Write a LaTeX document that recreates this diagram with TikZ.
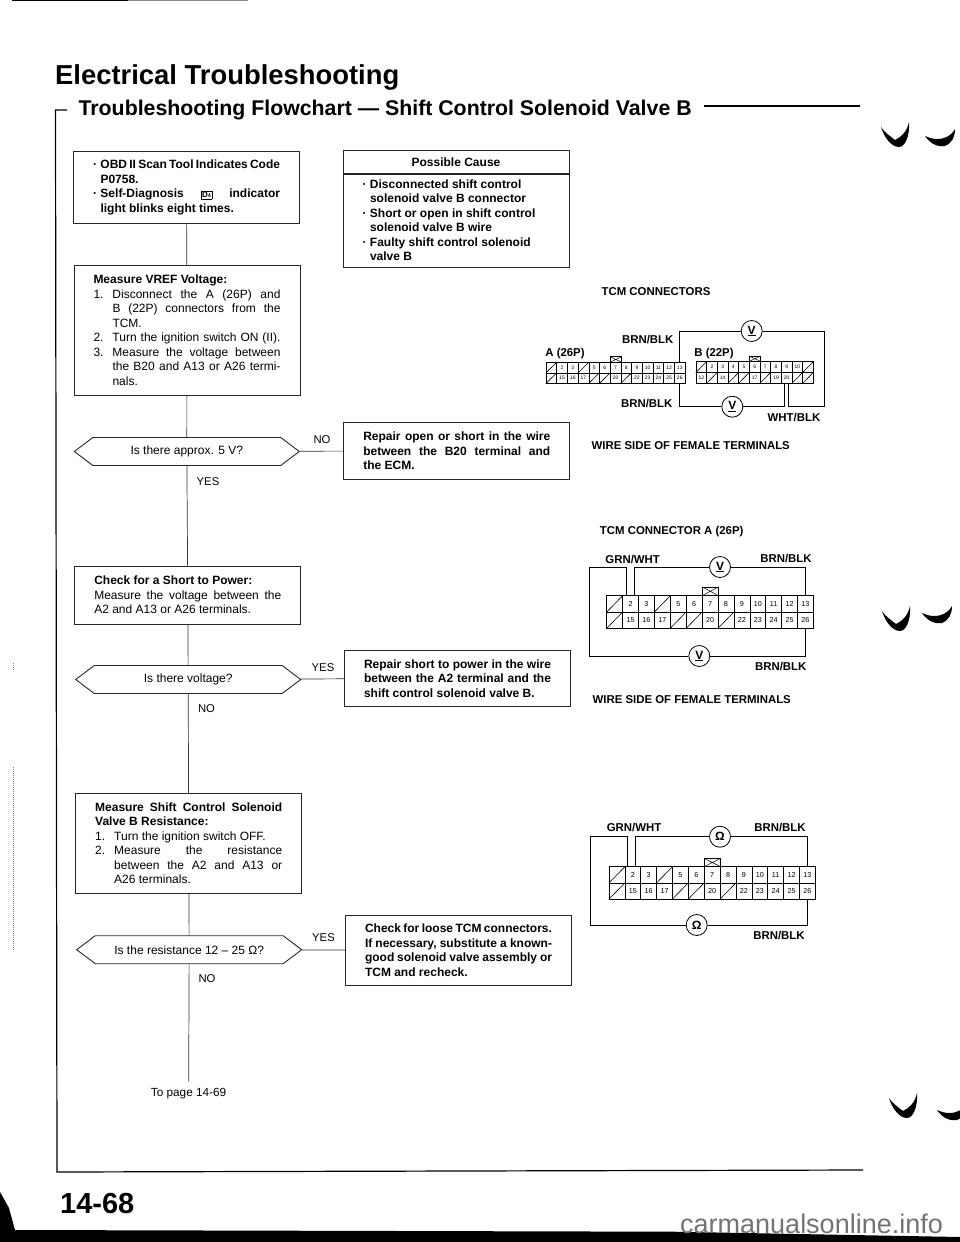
\documentclass[tikz,border=0pt]{standalone}
\usepackage{fontspec}
\setmainfont{Liberation Sans}
\usetikzlibrary{shapes.symbols, positioning}
\tikzstyle{process} = [rectangle, minimum width=226pt, inner xsep=19.5pt, inner ysep=2pt, text width=187pt, align=flush left, draw=black!85, line width=0.9pt]
\tikzstyle{decision} = [signal, signal to=west and east, signal pointer angle=74, minimum width=225pt, minimum height=28pt, inner sep=0pt, draw=black!85, line width=0.9pt]
\tikzstyle{flow} = [black!80, line width=0.7pt]
\tikzstyle{reply} = [inner sep=0pt, font=\fontsize{11.3}{13}\selectfont]
\tikzstyle{caption} = [inner sep=0pt, font=\fontsize{11.4}{13}\selectfont\bfseries]
\tikzstyle{wire} = [black, line width=0.8pt]
\tikzstyle{meter} = [circle, draw=black, line width=0.8pt, minimum size=21pt, inner sep=0pt, font=\fontsize{12}{12}\selectfont\bfseries]
\tikzstyle{cell} = [rectangle, draw=black, line width=0.5pt, inner sep=0pt]
\tikzstyle{notch} = [rectangle, draw=black, line width=0.7pt, inner sep=0pt, path picture={\draw [line width=0.5pt] (path picture bounding box.south west) -- (path picture bounding box.north east) (path picture bounding box.north west) -- (path picture bounding box.south east);}]
\tikzset{
  birdleft/.pic={\fill (0,5) .. controls (3,15) and (10,25) .. (18,25) .. controls (24,25) and (29,14) .. (28,0) .. controls (26,10) and (20,15) .. (14,18) .. controls (9,14) and (3,10) .. cycle;},
  birdright/.pic={\fill (0,3) .. controls (6,12) and (14,14) .. (20,13) .. controls (27,10) and (30,4) .. (30,-4) .. controls (26,3) and (20,6) .. (12,6) .. controls (6,6) and (3,4) .. cycle;}
}
\newcommand{\lin}[3]{\makebox[#1pt][l]{#2}\makebox[\dimexpr187pt-#1pt\relax][s]{#3}}
\newcommand{\rag}[3]{\makebox[#1pt][l]{#2}#3}
\newcommand{\dfour}{{\fboxsep=0.8pt\fboxrule=0.5pt\fbox{\fontsize{8}{8}\selectfont D\fontsize{5.5}{5.5}\selectfont 4}}}
\newcommand{\connector}[8]{
  \foreach \pin [count=\col] in {#7} {
    \node (#1t\col) [cell, minimum width=#4pt, minimum height=#5pt, font=\fontsize{#6}{#6}\selectfont] at ({#2+(\col-0.5)*#4},{#3+0.5*#5}) {\ifnum\pin=0 \else\pin\fi};
    \ifnum\pin=0 \draw [line width=0.6pt] (#1t\col.south west) -- (#1t\col.north east); \fi
  }
  \foreach \pin [count=\col] in {#8} {
    \node (#1b\col) [cell, minimum width=#4pt, minimum height=#5pt, font=\fontsize{#6}{#6}\selectfont] at ({#2+(\col-0.5)*#4},{#3+1.5*#5}) {\ifnum\pin=0 \else\pin\fi};
    \ifnum\pin=0 \draw [line width=0.6pt] (#1b\col.south west) -- (#1b\col.north east); \fi
  }
}
\begin{document}
\begin{tikzpicture}[x=1pt, y=-1pt, font=\fontsize{12}{14.5}\selectfont]
\useasboundingbox (0,0) rectangle (960,1242);

\node (title) [inner sep=0pt, anchor=base west, font=\fontsize{27.4}{30}\selectfont\bfseries] at (55,84.3) {Electrical Troubleshooting};
\node (subtitle) [inner sep=0pt, anchor=base west, font=\fontsize{21.3}{24}\selectfont\bfseries] at (78.4,115) {Troubleshooting Flowchart --- Shift Control Solenoid Valve B};
\draw [line width=1.2pt] (704,106) -- (860,106);
\draw [line width=1.2pt] (67,110) -- (55.5,110) -- (57,1172) -- (863,1170);
\draw [line width=1.2pt] (12,0.5) -- (128,0.5);
\draw [line width=1pt, black!45] (128,0.5) -- (248,0.5);
\draw [line width=1pt, black!50, densely dotted] (13,767) -- (13,950);
\draw [line width=1pt, black!50, densely dotted] (13,663) -- (13,670);

\node (obd) [process, minimum height=71.3pt] at (186.5,187.4) {\bfseries
  \lin{7.5}{·}{OBD II Scan Tool Indicates Code}\\
  \rag{7.5}{}{P0758.}\\
  \lin{7.5}{·}{Self-Diagnosis \dfour{} indicator}\\
  \rag{7.5}{}{light blinks eight times.}};
\node (vref) [process, minimum height=129.3pt] at (187,330.4) {\textbf{Measure VREF Voltage:}\\
  \lin{19}{1.}{Disconnect the A (26P) and}\\
  \lin{19}{}{B (22P) connectors from the}\\
  \rag{19}{}{TCM.}\\
  \lin{19}{2.}{Turn the ignition switch ON (II).}\\
  \lin{19}{3.}{Measure the voltage between}\\
  \lin{19}{}{the B20 and A13 or A26 termi-}\\
  \rag{19}{}{nals.}};
\node (ask1) [decision] at (186.8,451.5) {Is there approx. 5 V?};
\node (open) [process, minimum height=57pt] at (456.8,450.8) {\bfseries
  \lin{0}{}{Repair open or short in the wire}\\
  \lin{0}{}{between the B20 terminal and}\\
  the ECM.};
\node (short) [process, minimum height=58pt] at (187.8,595) {\textbf{Check for a Short to Power:}\\
  \lin{0}{}{Measure the voltage between the}\\
  A2 and A13 or A26 terminals.};
\node (ask2) [decision] at (188.2,679.5) {Is there voltage?};
\node (power) [process, minimum height=56.7pt] at (457.5,678.3) {\bfseries
  \lin{0}{}{Repair short to power in the wire}\\
  \lin{0}{}{between the A2 terminal and the}\\
  shift control solenoid valve B.};
\node (resist) [process, minimum height=100pt] at (188.7,843.3) {\textbf{\lin{0}{}{Measure Shift Control Solenoid}}\\
  \textbf{Valve B Resistance:}\\
  \rag{19}{1.}{Turn the ignition switch OFF.}\\
  \lin{19}{2.}{Measure the resistance}\\
  \lin{19}{}{between the A2 and A13 or}\\
  \rag{19}{}{A26 terminals.}};
\node (ask3) [decision] at (189.2,949.7) {Is the resistance 12 -- 25 Ω?};
\node (loose) [process, minimum height=70.7pt] at (458.5,950.3) {\bfseries
  \lin{0}{}{Check for loose TCM connectors.}\\
  \lin{0}{}{If necessary, substitute a known-}\\
  \lin{0}{}{good solenoid valve assembly or}\\
  TCM and recheck.};
\node (causehead) [process, minimum height=22.3pt, align=flush center] at (456,161.9) {\bfseries Possible Cause};
\node (cause) [process, minimum height=93pt, below=0pt of causehead] {\bfseries
  \rag{7.5}{·}{Disconnected shift control}\\
  \rag{7.5}{}{solenoid valve B connector}\\
  \rag{7.5}{·}{Short or open in shift control}\\
  \rag{7.5}{}{solenoid valve B wire}\\
  \rag{7.5}{·}{Faulty shift control solenoid}\\
  \rag{7.5}{}{valve B}};
\node (topage) [inner xsep=0pt, inner ysep=7pt, font=\fontsize{11.8}{14}\selectfont] at (188.6,1094) {To page 14-69};

\draw [flow] (obd) -- (vref);
\draw [flow] (vref) -- (ask1);
\draw [flow] (ask1) -- (short);
\draw [flow] (short) -- (ask2);
\draw [flow] (ask2) -- (resist);
\draw [flow] (resist) -- (ask3);
\draw [flow] (ask3) -- (topage);
\draw [flow] (ask1) -- (open);
\draw [flow] (ask2) -- (power);
\draw [flow] (ask3) -- (loose);

\node (no1) [reply] at (322,440) {NO};
\node (yes1) [reply] at (208,482) {YES};
\node (yes2) [reply] at (323,668) {YES};
\node (no2) [reply] at (206.5,709) {NO};
\node (yes3) [reply] at (323.5,938) {YES};
\node (no3) [reply] at (207,979) {NO};

\node (tcmhead) [caption] at (656,291.7) {TCM CONNECTORS};
\node (abrn1) [caption] at (647.7,339) {BRN/BLK};
\node (abrn2) [caption] at (646.7,403) {BRN/BLK};
\node (alabel) [caption] at (565,354) {A (26P)};
\node (blabel) [caption] at (714,354) {B (22P)};
\node (bwht) [caption] at (794,417) {WHT/BLK};
\node (side1) [caption] at (690.7,446) {WIRE SIDE OF FEMALE TERMINALS};
\connector{a}{546}{362.3}{10.7}{10.5}{5}{0,2,3,0,5,6,7,8,9,10,11,12,13}{0,15,16,17,0,0,20,0,22,23,24,25,26}
\connector{b}{696}{361.5}{10.67}{10.9}{5}{0,2,3,4,5,6,7,8,9,10,0}{12,0,14,0,0,17,0,19,20,0,0}
\node (anotch) [notch, minimum width=11.7pt, minimum height=5.5pt] at (615.8,359.5) {};
\node (bnotch) [notch, minimum width=11.7pt, minimum height=5.5pt] at (754.8,358.7) {};
\node (vtop) [meter] at (751.7,331) {\underline{V}};
\node (vbot) [meter] at (732.3,406.7) {\underline{V}};
\coordinate (bturn) at (824,406.7);
\coordinate (bwire1) at (784,383.4);
\coordinate (bwire2) at (788.3,383.4);
\draw [wire] (at13.north) |- (vtop);
\draw [wire] (vtop) -| (bturn) -| (bwire2);
\draw [wire] (ab13.south) |- (vbot);
\draw [wire] (vbot) -| (bwire1);

\node (conhead) [caption] at (671.7,531.7) {TCM CONNECTOR A (26P)};
\node (cgrn) [caption] at (632.7,559) {GRN/WHT};
\node (cbrn1) [caption] at (786,558) {BRN/BLK};
\node (cbrn2) [caption] at (780.7,666) {BRN/BLK};
\node (side2) [caption] at (691.7,700) {WIRE SIDE OF FEMALE TERMINALS};
\connector{c}{606.7}{595.7}{15.9}{16.3}{7.2}{0,2,3,0,5,6,7,8,9,10,11,12,13}{0,15,16,17,0,0,20,0,22,23,24,25,26}
\node (cnotch) [notch, minimum width=16pt, minimum height=8.7pt] at (710.3,591.3) {};
\node (vhigh) [meter] at (720,567) {\underline{V}};
\node (vlow) [meter] at (699.3,656) {\underline{V}};
\coordinate (cleft) at (589,567);
\coordinate (cwire1) at (626.7,595.7);
\coordinate (cwire2) at (634.3,595.7);
\draw [wire] (cwire1) |- (cleft) |- (vlow);
\draw [wire] (vlow) -| (cb13.south);
\draw [wire] (cwire2) |- (vhigh);
\draw [wire] (vhigh) -| (ct13.north);

\node (dgrn) [caption] at (634,827.7) {GRN/WHT};
\node (dbrn1) [caption] at (780,827.7) {BRN/BLK};
\node (dbrn2) [caption] at (779,935) {BRN/BLK};
\connector{d}{609}{866.7}{15.87}{16.15}{7.2}{0,2,3,0,5,6,7,8,9,10,11,12,13}{0,15,16,17,0,0,20,0,22,23,24,25,26}
\node (dnotch) [notch, minimum width=16.7pt, minimum height=8.4pt] at (712.3,862.5) {};
\node (ohigh) [meter] at (720,836.7) {Ω};
\node (olow) [meter] at (696.7,925) {Ω};
\coordinate (dleft) at (590,836.7);
\coordinate (dwire1) at (627.7,866.7);
\coordinate (dwire2) at (635,866.7);
\draw [wire] (dwire1) |- (dleft) |- (olow);
\draw [wire] (olow) -| (db13.south);
\draw [wire] (dwire2) |- (ohigh);
\draw [wire] (ohigh) -| (dt13.north);

\pic at (881,122) {birdleft};
\pic at (925,133) {birdright};
\pic at (882,606) {birdleft};
\pic at (922,610) {birdright};
\pic at (889,1093) {birdleft};
\pic at (937,1107) {birdright};

\node (pageno) [inner sep=0pt, anchor=base west, font=\fontsize{29}{32}\selectfont\bfseries] at (60,1213) {14-68};
\fill (0,1192) -- (9,1208) -- (15,1230) -- (674,1231.7) -- (960,1237) -- (960,1242) -- (0,1242) -- cycle;
\node (mark) [inner sep=0pt, anchor=base west, text=black!55, font=\fontsize{27}{30}\selectfont] at (680,1233) {carmanualsonline.info};
\end{tikzpicture}
\end{document}
